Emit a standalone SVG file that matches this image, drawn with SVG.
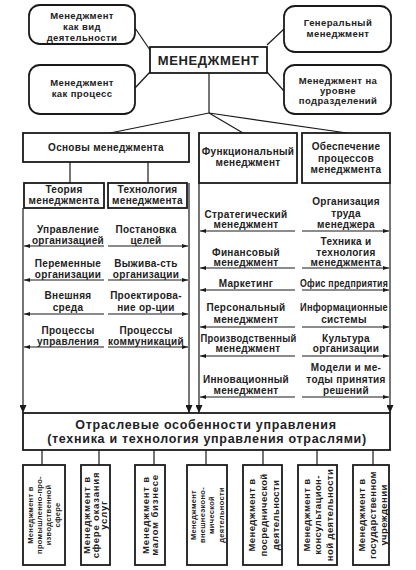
<svg xmlns="http://www.w3.org/2000/svg" width="416" height="570" viewBox="0 0 416 570">
<defs>
<style>
.bx{fill:#fff;stroke:#1a1a1a;stroke-width:1.8}
.ln{fill:none;stroke:#1a1a1a;stroke-width:1.2}
.t{font-family:"Liberation Sans",Arial,sans-serif;font-weight:bold;fill:#222;text-anchor:middle}
.s10{font-size:10px;letter-spacing:0.3px}
.s95{font-size:9.5px;letter-spacing:0.4px}
.sv{font-size:9.5px;letter-spacing:0.8px}
.sm{font-size:7.5px;letter-spacing:0.3px}
.big{font-size:13px;letter-spacing:0.6px}
.ot{font-size:12.5px;letter-spacing:0.7px}
</style>
<marker id="ah" markerWidth="6" markerHeight="4" refX="6" refY="2" orient="auto" markerUnits="userSpaceOnUse"><path d="M0,0 L6,2 L0,4 z" fill="#1a1a1a"/></marker>
<marker id="av" markerWidth="8" markerHeight="7" refX="8" refY="3.5" orient="auto" markerUnits="userSpaceOnUse"><path d="M0,0 L8,3.5 L0,7 z" fill="#1a1a1a"/></marker>
</defs>
<rect width="416" height="570" fill="#fff"/>

<g id="connectors">
<line class="ln" x1="135" y1="28" x2="150" y2="50"/>
<line class="ln" x1="135" y1="88" x2="150" y2="72"/>
<line class="ln" x1="267" y1="45" x2="284" y2="29"/>
<line class="ln" x1="267" y1="72" x2="284" y2="91"/>
<line class="ln" x1="209" y1="73" x2="209" y2="113"/>
<line class="ln" x1="209" y1="113" x2="110" y2="133"/>
<line class="ln" x1="209" y1="113" x2="243" y2="133"/>
<line class="ln" x1="209" y1="113" x2="347" y2="133"/>
<line class="ln" x1="70" y1="162" x2="70" y2="183"/>
<line class="ln" x1="148" y1="162" x2="148" y2="183"/>
<line class="ln" x1="23" y1="208" x2="23" y2="413" marker-end="url(#av)"/>
<line class="ln" x1="189" y1="183" x2="189" y2="413" marker-end="url(#av)"/>
<line class="ln" x1="199" y1="183" x2="199" y2="413" marker-end="url(#av)"/>
<line class="ln" x1="390" y1="183" x2="390" y2="413" marker-end="url(#av)"/>
<line class="ln" x1="104" y1="246" x2="24" y2="246" marker-end="url(#ah)"/>
<line class="ln" x1="108" y1="246" x2="188" y2="246" marker-end="url(#ah)"/>
<line class="ln" x1="104" y1="280" x2="24" y2="280" marker-end="url(#ah)"/>
<line class="ln" x1="108" y1="280" x2="188" y2="280" marker-end="url(#ah)"/>
<line class="ln" x1="104" y1="314" x2="24" y2="314" marker-end="url(#ah)"/>
<line class="ln" x1="108" y1="314" x2="188" y2="314" marker-end="url(#ah)"/>
<line class="ln" x1="104" y1="347" x2="24" y2="347" marker-end="url(#ah)"/>
<line class="ln" x1="108" y1="347" x2="188" y2="347" marker-end="url(#ah)"/>
<line class="ln" x1="295" y1="231" x2="200" y2="231" marker-end="url(#ah)"/>
<line class="ln" x1="302" y1="231" x2="389" y2="231" marker-end="url(#ah)"/>
<line class="ln" x1="295" y1="268" x2="200" y2="268" marker-end="url(#ah)"/>
<line class="ln" x1="302" y1="268" x2="389" y2="268" marker-end="url(#ah)"/>
<line class="ln" x1="295" y1="290" x2="200" y2="290" marker-end="url(#ah)"/>
<line class="ln" x1="302" y1="290" x2="389" y2="290" marker-end="url(#ah)"/>
<line class="ln" x1="295" y1="327" x2="200" y2="327" marker-end="url(#ah)"/>
<line class="ln" x1="302" y1="327" x2="389" y2="327" marker-end="url(#ah)"/>
<line class="ln" x1="295" y1="356" x2="200" y2="356" marker-end="url(#ah)"/>
<line class="ln" x1="302" y1="356" x2="389" y2="356" marker-end="url(#ah)"/>
<line class="ln" x1="295" y1="397" x2="200" y2="397" marker-end="url(#ah)"/>
<line class="ln" x1="302" y1="397" x2="389" y2="397" marker-end="url(#ah)"/>
<line class="ln" x1="42" y1="450" x2="42" y2="465"/>
<line class="ln" x1="99" y1="450" x2="99" y2="465"/>
<line class="ln" x1="154" y1="450" x2="154" y2="465"/>
<line class="ln" x1="206" y1="450" x2="206" y2="465"/>
<line class="ln" x1="263" y1="450" x2="263" y2="465"/>
<line class="ln" x1="317" y1="450" x2="317" y2="465"/>
<line class="ln" x1="373" y1="450" x2="373" y2="465"/>
</g>

<g id="n-vid">
<rect class="bx" x="29" y="5" width="106" height="39" rx="11"/>
<text class="t s95"><tspan x="82" y="18.5">Менеджмент</tspan><tspan x="82" y="30">как вид</tspan><tspan x="82" y="40.5">деятельности</tspan></text>
</g>
<g id="n-process">
<rect class="bx" x="29" y="65" width="106" height="49" rx="11"/>
<text class="t s95"><tspan x="82" y="85.5">Менеджмент</tspan><tspan x="82" y="96.5">как процесс</tspan></text>
</g>
<g id="n-general">
<rect class="bx" x="284" y="6" width="107" height="46" rx="11"/>
<text class="t s95"><tspan x="338" y="25.5">Генеральный</tspan><tspan x="338" y="36.5">менеджмент</tspan></text>
</g>
<g id="n-podrazd">
<rect class="bx" x="284" y="65" width="107" height="49" rx="11"/>
<text class="t s95"><tspan x="338" y="83.5">Менеджмент на</tspan><tspan x="338" y="93.5">уровне</tspan><tspan x="338" y="103.5">подразделений</tspan></text>
</g>
<g id="n-main">
<rect class="bx" x="150" y="47" width="117" height="26"/>
<text class="t big" x="208.5" y="64.7">МЕНЕДЖМЕНТ</text>
</g>

<g id="n-osnovy">
<rect class="bx" x="23" y="133" width="166" height="29"/>
<text class="t s10" x="106" y="150.5">Основы менеджмента</text>
</g>
<g id="n-funk">
<rect class="bx" x="199" y="133" width="98" height="50"/>
<text class="t s10"><tspan x="248" y="155">Функциональный</tspan><tspan x="248" y="166">менеджмент</tspan></text>
</g>
<g id="n-obesp">
<rect class="bx" x="302" y="133" width="88" height="50"/>
<text class="t s10"><tspan x="346" y="150">Обеспечение</tspan><tspan x="346" y="161.5">процессов</tspan><tspan x="346" y="172.5">менеджмента</tspan></text>
</g>
<g id="n-teoria">
<rect class="bx" x="24" y="183" width="80" height="25"/>
<text class="t s10"><tspan x="64" y="193">Теория</tspan><tspan x="64" y="204">менеджмента</tspan></text>
</g>
<g id="n-tekh">
<rect class="bx" x="108" y="183" width="79" height="25"/>
<text class="t s10"><tspan x="147.5" y="193">Технология</tspan><tspan x="147.5" y="204">менеджмента</tspan></text>
</g>

<g id="n-left-items">
<text class="t s10"><tspan x="68" y="232.5">Управление</tspan><tspan x="68" y="243.5">организацией</tspan></text>
<text class="t s10"><tspan x="146" y="232.5">Постановка</tspan><tspan x="146" y="243.5">целей</tspan></text>
<text class="t s10"><tspan x="68" y="266.5">Переменные</tspan><tspan x="68" y="277.5">организации</tspan></text>
<text class="t s10"><tspan x="146" y="266.5">Выжива-сть</tspan><tspan x="146" y="277.5">организации</tspan></text>
<text class="t s10"><tspan x="68" y="299">Внешняя</tspan><tspan x="68" y="311">среда</tspan></text>
<text class="t s10"><tspan x="146" y="299">Проектирова-</tspan><tspan x="146" y="311">ние ор-ции</tspan></text>
<text class="t s10"><tspan x="68" y="333.5">Процессы</tspan><tspan x="68" y="344.5">управления</tspan></text>
<text class="t s10"><tspan x="146" y="333.5">Процессы</tspan><tspan x="146" y="344.5">коммуникаций</tspan></text>
</g>

<g id="n-mid-items">
<text class="t s10"><tspan x="246" y="218">Стратегический</tspan><tspan x="246" y="228">менеджмент</tspan></text>
<text class="t s10"><tspan x="246" y="255.5">Финансовый</tspan><tspan x="246" y="265.5">менеджмент</tspan></text>
<text class="t s10" x="246" y="286.5">Маркетинг</text>
<text class="t s10"><tspan x="246" y="311">Персональный</tspan><tspan x="246" y="322.5">менеджмент</tspan></text>
<text class="t s10"><tspan x="248.5" y="341.5" textLength="96" lengthAdjust="spacingAndGlyphs">Производственный</tspan><tspan x="248" y="352">менеджмент</tspan></text>
<text class="t s10"><tspan x="246" y="383">Инновационный</tspan><tspan x="246" y="393.5">менеджмент</tspan></text>
</g>

<g id="n-right-items">
<text class="t s10"><tspan x="346" y="205">Организация</tspan><tspan x="346" y="216.5">труда</tspan><tspan x="346" y="227.5">менеджера</tspan></text>
<text class="t s10"><tspan x="346" y="245">Техника и</tspan><tspan x="346" y="255.5">технология</tspan><tspan x="346" y="265.5">менеджмента</tspan></text>
<text class="t s10" x="344" y="286.5" textLength="88" lengthAdjust="spacingAndGlyphs">Офис предприятия</text>
<text class="t s10"><tspan x="344" y="311" textLength="88" lengthAdjust="spacingAndGlyphs">Информационные</tspan><tspan x="344" y="322.5">системы</tspan></text>
<text class="t s10"><tspan x="346" y="341.5">Культура</tspan><tspan x="346" y="352">организации</tspan></text>
<text class="t s10"><tspan x="346" y="371">Модели и ме-</tspan><tspan x="346" y="383">тоды принятия</tspan><tspan x="346" y="393.5">решений</tspan></text>
</g>

<g id="n-otrasl">
<rect class="bx" x="23" y="413" width="367" height="37"/>
<text class="t ot"><tspan x="206" y="428.5">Отраслевые особенности  управления</tspan><tspan x="207" y="442.5">(техника и технология управления отраслями)</tspan></text>
</g>

<g id="n-prom">
<rect class="bx" x="23" y="465" width="42" height="100"/>
<text class="t sm" transform="translate(44,515) rotate(-90)"><tspan x="0" y="-11.4">Менеджмент в</tspan><tspan x="0" y="-1.8">промышленно-про-</tspan><tspan x="0" y="7.4">изводственной</tspan><tspan x="0" y="15.6">сфере</tspan></text>
</g>
<g id="n-uslug">
<rect class="bx" x="81" y="465" width="29" height="100"/>
<text class="t sv" transform="translate(95.5,515) rotate(-90)"><tspan x="0" y="-5.8">Менеджмент в</tspan><tspan x="0" y="3.6">сфере оказания</tspan><tspan x="0" y="11.8">услуг</tspan></text>
</g>
<g id="n-malom">
<rect class="bx" x="135" y="465" width="30" height="100"/>
<text class="t sv" transform="translate(150,515) rotate(-90)"><tspan x="0" y="-0.9">Менеджмент в</tspan><tspan x="0" y="8.4">малом бизнесе</tspan></text>
</g>
<g id="n-vneshn">
<rect class="bx" x="187" y="465" width="40" height="100"/>
<text class="t sm" transform="translate(207,515) rotate(-90)"><tspan x="0" y="-11.4">Менеджмент</tspan><tspan x="0" y="-2.4">внешнеэконо-</tspan><tspan x="0" y="7.1">мической</tspan><tspan x="0" y="16.6">деятельности</tspan></text>
</g>
<g id="n-posred">
<rect class="bx" x="243" y="465" width="39" height="100"/>
<text class="t s95" transform="translate(262.5,515) rotate(-90)"><tspan x="0" y="-7.5">Менеджмент в</tspan><tspan x="0" y="4.5">посреднической</tspan><tspan x="0" y="16">деятельности</tspan></text>
</g>
<g id="n-konsult">
<rect class="bx" x="298" y="465" width="39" height="100"/>
<text class="t s95" transform="translate(317.5,515) rotate(-90)"><tspan x="0" y="-7.2">Менеджмент в</tspan><tspan x="0" y="3.8">консультацион-</tspan><tspan x="0" y="15">ной деятельности</tspan></text>
</g>
<g id="n-gos">
<rect class="bx" x="353" y="465" width="36" height="100"/>
<text class="t s95" transform="translate(371,515) rotate(-90)"><tspan x="0" y="-5.7">Менеджмент в</tspan><tspan x="0" y="5.3">государственном</tspan><tspan x="0" y="15.8">учреждении</tspan></text>
</g>
</svg>
